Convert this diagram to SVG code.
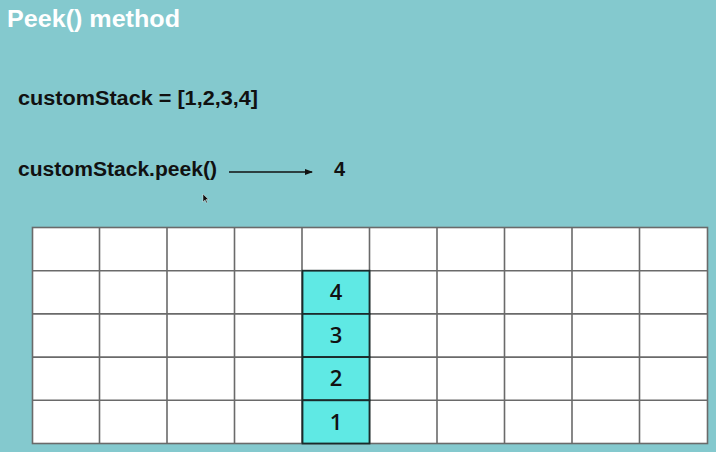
<svg xmlns="http://www.w3.org/2000/svg" width="716" height="452" viewBox="0 0 716 452">
<style>
.bg{fill:#84c9ce}
.t{font-family:"Liberation Sans",Arial,sans-serif;font-weight:bold}
.title{fill:#ffffff;font-size:23px}
.code{fill:#111111;font-size:20px}
.cell{fill:#ffffff;stroke:#6a6a6a;stroke-width:1.6}
.stk{fill:#5fe9e4;stroke:#1a2a2a;stroke-width:1.8}
.num{font-family:"Open Sans","DejaVu Sans",sans-serif;font-size:22px;font-weight:600;fill:#111;text-anchor:middle}
</style>
<defs>
<marker id="ah" markerWidth="8" markerHeight="8" refX="7" refY="4" orient="auto" markerUnits="userSpaceOnUse">
<path d="M0,1 L8,4 L0,7 Z" fill="#111"/>
</marker>
</defs>
<rect class="bg" x="0" y="0" width="716" height="452"/>
<text class="t title" x="7" y="27" textLength="173" lengthAdjust="spacingAndGlyphs">Peek() method</text>
<text class="t code" x="18" y="105" textLength="240" lengthAdjust="spacingAndGlyphs">customStack = [1,2,3,4]</text>
<g id="peek-call"><text class="t code" x="18" y="176" textLength="199" lengthAdjust="spacingAndGlyphs">customStack.peek()</text></g>
<g id="result"><text class="t code" x="334" y="176">4</text></g>
<g id="connectors">
<line x1="229" y1="172" x2="312" y2="172" stroke="#111" stroke-width="1.5" marker-end="url(#ah)"/>
</g>
<path d="M203,194 L203,202 L205,200 L206.5,203 L207.5,202.5 L206,199.5 L208.5,199.5 Z" fill="#111" stroke="#fff" stroke-width="0.4"/>
<g id="grid">
<rect class="cell" x="32.5" y="227.5" width="675" height="216"/>
<g stroke="#6a6a6a" stroke-width="1.6">
<line x1="99.5" y1="227.5" x2="99.5" y2="443.5"/>
<line x1="167" y1="227.5" x2="167" y2="443.5"/>
<line x1="234.5" y1="227.5" x2="234.5" y2="443.5"/>
<line x1="302" y1="227.5" x2="302" y2="443.5"/>
<line x1="369.5" y1="227.5" x2="369.5" y2="443.5"/>
<line x1="437" y1="227.5" x2="437" y2="443.5"/>
<line x1="504.5" y1="227.5" x2="504.5" y2="443.5"/>
<line x1="572" y1="227.5" x2="572" y2="443.5"/>
<line x1="639.5" y1="227.5" x2="639.5" y2="443.5"/>
<line x1="32.5" y1="270.7" x2="707.5" y2="270.7"/>
<line x1="32.5" y1="313.9" x2="707.5" y2="313.9"/>
<line x1="32.5" y1="357.1" x2="707.5" y2="357.1"/>
<line x1="32.5" y1="400.3" x2="707.5" y2="400.3"/>
</g>
</g>
<g id="stack-4"><rect class="stk" x="302.5" y="270.7" width="67" height="43.2"/><text class="num" x="336" y="300">4</text></g>
<g id="stack-3"><rect class="stk" x="302.5" y="313.9" width="67" height="43.2"/><text class="num" x="336" y="343.2">3</text></g>
<g id="stack-2"><rect class="stk" x="302.5" y="357.1" width="67" height="43.2"/><text class="num" x="336" y="386.4">2</text></g>
<g id="stack-1"><rect class="stk" x="302.5" y="400.3" width="67" height="43.2"/><text class="num" x="336" y="429.6">1</text></g>
</svg>
